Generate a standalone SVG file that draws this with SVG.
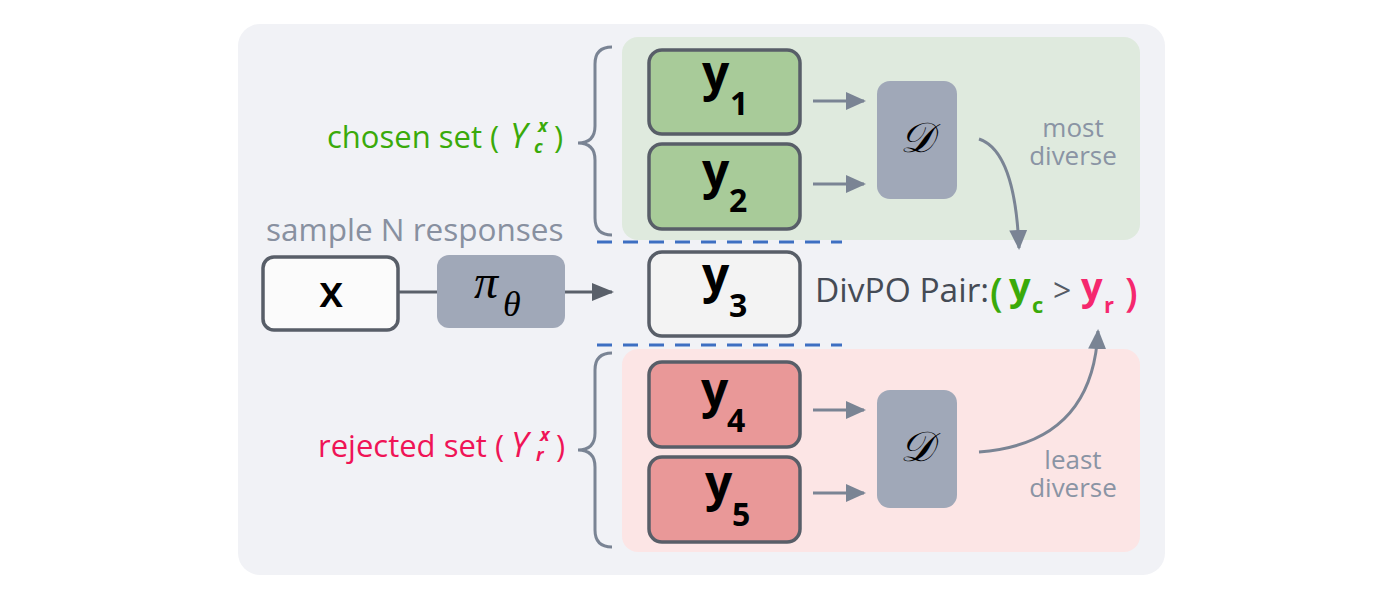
<svg xmlns="http://www.w3.org/2000/svg" width="1400" height="590" viewBox="0 0 1400 590">
<style>
.lbl{font-family:"Open Sans","Liberation Sans",sans-serif;}
.box{stroke:#585e68;stroke-width:3.5;}
.yy{font-family:"Open Sans","Liberation Sans",sans-serif;font-weight:700;}
.conn{fill:none;stroke:#7a8494;stroke-width:3;}
.math{font-family:"Liberation Serif","DejaVu Serif",serif;font-style:italic;fill:#000;}
.desc{font-family:"Open Sans","Liberation Sans",sans-serif;font-size:26px;fill:#8a94a4;text-anchor:middle;}
.it{font-style:italic;}
.green{fill:#3aaa0a;}
.red{fill:#ef1456;}
.pink{fill:#f5286e;}
</style>
<defs>
<marker id="ah" viewBox="0 0 20 18" refX="18" refY="9" markerWidth="20" markerHeight="18" orient="auto" markerUnits="userSpaceOnUse"><path d="M0,0 L20,9 L0,18 z" fill="#7a8494"/></marker>
<marker id="ahd" viewBox="0 0 22 18" refX="20" refY="9" markerWidth="22" markerHeight="18" orient="auto" markerUnits="userSpaceOnUse"><path d="M0,0 L22,9 L0,18 z" fill="#5a606a"/></marker>
</defs>
<rect x="0" y="0" width="1400" height="590" fill="#ffffff"/>
<rect x="238" y="24" width="927" height="551" rx="22" fill="#f1f2f6"/>
<g id="chosen-panel"><rect x="622" y="37" width="518" height="203" rx="16" fill="#dfeade"/></g>
<g id="rejected-panel"><rect x="622" y="349" width="518" height="203" rx="16" fill="#fce5e5"/></g>

<g id="braces" fill="none" stroke="#7a8494" stroke-width="3">
<path d="M612,47 Q595,47 595,64 L595,126 Q595,143 578,143 Q595,143 595,160 L595,218 Q595,235 612,235"/>
<path d="M612,353 Q595,353 595,370 L595,433 Q595,450 578,450 Q595,450 595,467 L595,530 Q595,547 612,547"/>
</g>

<g id="chosen-label">
<text class="lbl green" x="327" y="148" font-size="31">chosen set (</text>
<text class="lbl green it" x="510" y="148" font-size="34">Y</text>
<text class="lbl green it" x="538" y="132" font-size="18" font-weight="700">x</text>
<text class="lbl green it" x="534" y="153" font-size="18" font-weight="700">c</text>
<text class="lbl green" x="554" y="148" font-size="31">)</text>
</g>
<g id="rejected-label">
<text class="lbl red" x="318" y="457" font-size="31">rejected set (</text>
<text class="lbl red it" x="511" y="457" font-size="34">Y</text>
<text class="lbl red it" x="540" y="441" font-size="18" font-weight="700">x</text>
<text class="lbl red it" x="536" y="461" font-size="18" font-weight="700">r</text>
<text class="lbl red" x="556" y="457" font-size="31">)</text>
</g>
<g id="sample-label"><text class="lbl" x="266" y="241" font-size="31.5" fill="#8890a0">sample N responses</text></g>

<g id="dashes" stroke="#3d6fc2" stroke-width="3" stroke-dasharray="15,11">
<line x1="597" y1="242" x2="842" y2="242"/>
<line x1="597" y1="345" x2="842" y2="345"/>
</g>

<g id="node-x"><rect class="box" x="263" y="257" width="135" height="73" rx="11" fill="#fbfbfb"/>
<text x="331" y="307" font-size="44" text-anchor="middle" style="font-family:'Open Sans','Liberation Sans',sans-serif;font-weight:600;fill:#000">x</text></g>
<g id="node-pi"><rect x="437" y="255" width="128" height="73" rx="12" fill="#a0a8b8"/>
<text class="math" x="474" y="298" font-size="48">π</text><text class="math" x="503" y="316" font-size="36">θ</text></g>

<g id="node-y1"><rect class="box" x="649" y="50" width="151" height="84" rx="13" fill="#a8cb99"/>
<text class="yy" x="702" y="90" font-size="48">y</text><text class="yy" x="730" y="115" font-size="32">1</text></g>
<g id="node-y2"><rect class="box" x="649" y="144" width="151" height="85" rx="13" fill="#a8cb99"/>
<text class="yy" x="702" y="188" font-size="48">y</text><text class="yy" x="729" y="212" font-size="32">2</text></g>
<g id="node-y3"><rect class="box" x="649" y="252" width="151" height="84" rx="13" fill="#f3f3f3"/>
<text class="yy" x="702" y="292" font-size="48">y</text><text class="yy" x="729" y="317" font-size="32">3</text></g>
<g id="node-y4"><rect class="box" x="649" y="362" width="151" height="85" rx="13" fill="#e99898"/>
<text class="yy" x="701" y="407" font-size="48">y</text><text class="yy" x="727" y="432" font-size="32">4</text></g>
<g id="node-y5"><rect class="box" x="649" y="457" width="151" height="85" rx="13" fill="#e99898"/>
<text class="yy" x="705" y="500" font-size="48">y</text><text class="yy" x="732" y="526" font-size="32">5</text></g>

<g id="node-D1"><rect x="877" y="81" width="80" height="118" rx="13" fill="#a0a8b8"/>
<text class="math" x="917" y="152" font-size="42" text-anchor="middle">𝒟</text></g>
<g id="node-D2"><rect x="877" y="390" width="80" height="118" rx="13" fill="#a0a8b8"/>
<text class="math" x="917" y="461" font-size="42" text-anchor="middle">𝒟</text></g>

<g id="connectors">
<line x1="398" y1="292" x2="437" y2="292" stroke="#5a606a" stroke-width="3"/>
<line x1="565" y1="292" x2="612" y2="292" stroke="#5a606a" stroke-width="3" marker-end="url(#ahd)"/>
<line class="conn" x1="813" y1="101" x2="864" y2="101" marker-end="url(#ah)"/>
<line class="conn" x1="813" y1="184" x2="864" y2="184" marker-end="url(#ah)"/>
<line class="conn" x1="813" y1="410" x2="864" y2="410" marker-end="url(#ah)"/>
<line class="conn" x1="813" y1="493" x2="864" y2="493" marker-end="url(#ah)"/>
<path class="conn" d="M979,139 C1000,146 1016,175 1019,248" marker-end="url(#ah)"/>
<path class="conn" d="M979,452 C1045,447 1094,415 1098,331" marker-end="url(#ah)"/>
</g>

<g id="desc-labels">
<text class="desc"><tspan x="1073" y="137">most</tspan><tspan x="1073" y="165">diverse</tspan></text>
<text class="desc"><tspan x="1073" y="469">least</tspan><tspan x="1073" y="497">diverse</tspan></text>
</g>

<g id="divpo-pair">
<text class="lbl" x="815" y="302" font-size="33.5" fill="#454b55">DivPO Pair:</text>
<text class="lbl green" x="990" y="307" font-size="40" font-weight="600">(</text>
<text class="yy green" x="1009" y="300" font-size="38">y</text>
<text class="yy green" x="1032" y="313" font-size="22">c</text>
<text class="lbl" x="1053" y="302" font-size="32" fill="#555b65">&gt;</text>
<text class="yy pink" x="1081" y="300" font-size="38">y</text>
<text class="yy pink" x="1104" y="313" font-size="22">r</text>
<text class="lbl pink" x="1125" y="307" font-size="40" font-weight="600">)</text>
</g>
</svg>
